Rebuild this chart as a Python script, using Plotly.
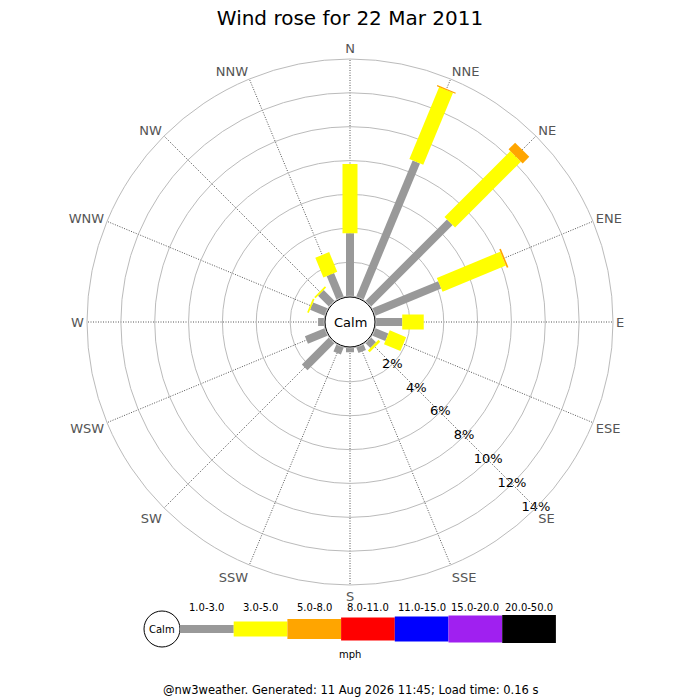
"""Wind rose for 22 Mar 2011 (nw3weather style), drawn with Plotly polar axes."""

import plotly.graph_objects as go

DIRECTIONS = ["N", "NNE", "NE", "ENE", "E", "ESE", "SE", "SSE",
              "S", "SSW", "SW", "WSW", "W", "WNW", "NW", "NNW"]

SPEED_BINS = ["1.0-3.0", "3.0-5.0", "5.0-8.0", "8.0-11.0",
              "11.0-15.0", "15.0-20.0", "20.0-50.0"]

# percent of time per direction for each speed bin (mph)
PCT_1_3 = [3.7, 8.7, 6.8, 4.2, 1.55, 0.82, 0.4, 0.35,
           0.25, 0.45, 2.25, 1.25, 0.35, 0.92, 0.9, 1.5]
PCT_3_5 = [4.1, 4.6, 5.5, 4.05, 1.27, 1.05, 0.15, 0.0,
           0.0, 0.0, 0.0, 0.0, 0.0, 0.1, 0.1, 1.25]
PCT_5_8 = [0.0, 0.07, 0.55, 0.1, 0.0, 0.0, 0.0, 0.0,
           0.0, 0.0, 0.0, 0.0, 0.0, 0.0, 0.0, 0.0]
PCT_8_11 = [0.0] * 16
PCT_11_15 = [0.0] * 16
PCT_15_20 = [0.0] * 16
PCT_20_50 = [0.0] * 16

RADIAL_TICKS = [2, 4, 6, 8, 10, 12, 14]
RADIAL_LABEL_DIR = "SE"

TITLE = "Wind rose for 22 Mar 2011"
FOOTER = "@nw3weather. Generated: 11 Aug 2026 11:45; Load time: 0.16 s"

COLORS = ["#999999", "#ffff00", "#ffa500", "#ff0000", "#0000ff", "#a020f0", "#000000"]
BAR_PX = [8, 15, 20, 23, 25, 27, 28]

W = H = 700
OFF = 8                  # page margin the browser adds round the plot div
CX, CY = 350, 322        # rose centre, screen px
R_OUT, R_HOLE = 263, 26  # px
FONT = "DejaVu Sans"


def px(x, y):
    """screen pixel -> paper coords"""
    return (x - OFF) / W, 1 - (y - OFF) / H


def note(fig, x, y, text, size):
    px_, py_ = px(x, y)
    fig.add_annotation(x=px_, y=py_, xref="paper", yref="paper", text=text,
                       showarrow=False, xanchor="center", yanchor="middle",
                       font=dict(size=size, color="black"))


def main() -> None:
    series = [PCT_1_3, PCT_3_5, PCT_5_8, PCT_8_11, PCT_11_15, PCT_15_20, PCT_20_50]

    fig = go.Figure()
    base = [0.0] * len(DIRECTIONS)
    for vals, color, width in zip(series, COLORS, BAR_PX):
        theta, r = [], []
        for i, d in enumerate(DIRECTIONS):
            if vals[i] > 0:
                theta += [d, d, None]
                r += [base[i], base[i] + vals[i], None]
            base[i] += vals[i]
        if not r:
            continue
        fig.add_trace(
            go.Scatterpolar(
                theta=theta,
                r=r,
                mode="lines",
                line=dict(color=color, width=width),
                showlegend=False,
                hoverinfo="skip",
            )
        )

    # percentage labels sit on the SE spoke
    fig.add_trace(
        go.Scatterpolar(
            theta=[RADIAL_LABEL_DIR] * len(RADIAL_TICKS),
            r=RADIAL_TICKS,
            mode="text",
            text=[f"{v}%" for v in RADIAL_TICKS],
            textposition="middle center",
            textfont=dict(size=13, color="black"),
            cliponaxis=False,
            showlegend=False,
            hoverinfo="skip",
        )
    )

    x0, y1 = px(CX - R_OUT, CY - R_OUT)
    x1, y0 = px(CX + R_OUT, CY + R_OUT)
    fig.update_layout(
        width=W,
        height=H,
        margin=dict(l=0, r=0, t=0, b=0),
        paper_bgcolor="white",
        font=dict(family=FONT, color="black"),
        title=dict(text=TITLE, x=px(350, 0)[0], xanchor="center", y=px(0, 18)[1],
                   yanchor="middle", font=dict(size=20, color="black")),
        polar=dict(
            domain=dict(x=[x0, x1], y=[y0, y1]),
            bgcolor="white",
            hole=R_HOLE / R_OUT,
            angularaxis=dict(
                type="category",
                categoryarray=DIRECTIONS,
                rotation=90,
                direction="clockwise",
                showline=True,
                linecolor="#bbbbbb",
                linewidth=1,
                gridcolor="#555555",
                griddash="1px,1.5px",
                gridwidth=1,
                ticks="",
                tickfont=dict(size=13, color="#555555"),
            ),
            radialaxis=dict(
                range=[0, 14],
                tickvals=RADIAL_TICKS,
                showticklabels=False,
                showline=False,
                ticks="",
                gridcolor="#bbbbbb",
                gridwidth=1,
            ),
        ),
    )

    # calm circle in the middle
    cx0, cy1 = px(CX - 25, CY - 25)
    cx1, cy0 = px(CX + 25, CY + 25)
    fig.add_shape(type="circle", xref="paper", yref="paper",
                  x0=cx0, x1=cx1, y0=cy0, y1=cy1,
                  line=dict(color="black", width=1), fillcolor="white", layer="above")
    note(fig, CX, CY, "Calm", 13)

    # speed legend along the bottom
    lx, ly, seg = 180, 629, 53.7
    a0, b1 = px(lx - 36, ly - 18)
    a1, b0 = px(lx, ly + 18)
    fig.add_shape(type="circle", xref="paper", yref="paper",
                  x0=a0, x1=a1, y0=b0, y1=b1,
                  line=dict(color="black", width=1), fillcolor="white")
    note(fig, lx - 18, ly, "Calm", 10)
    for k, (label, color, width) in enumerate(zip(SPEED_BINS, COLORS, BAR_PX)):
        a = lx + k * seg
        r0, t1 = px(a, ly - width / 2)
        r1, t0 = px(a + seg, ly + width / 2)
        fig.add_shape(type="rect", xref="paper", yref="paper",
                      x0=r0, x1=r1, y0=t0, y1=t1,
                      line=dict(width=0), fillcolor=color)
        note(fig, a + seg / 2, 607, label, 10)
    note(fig, CX, 654, "mph", 10)
    note(fig, 350, 690, FOOTER, 11.5)

    fig.write_html("out.html")


if __name__ == "__main__":
    main()
